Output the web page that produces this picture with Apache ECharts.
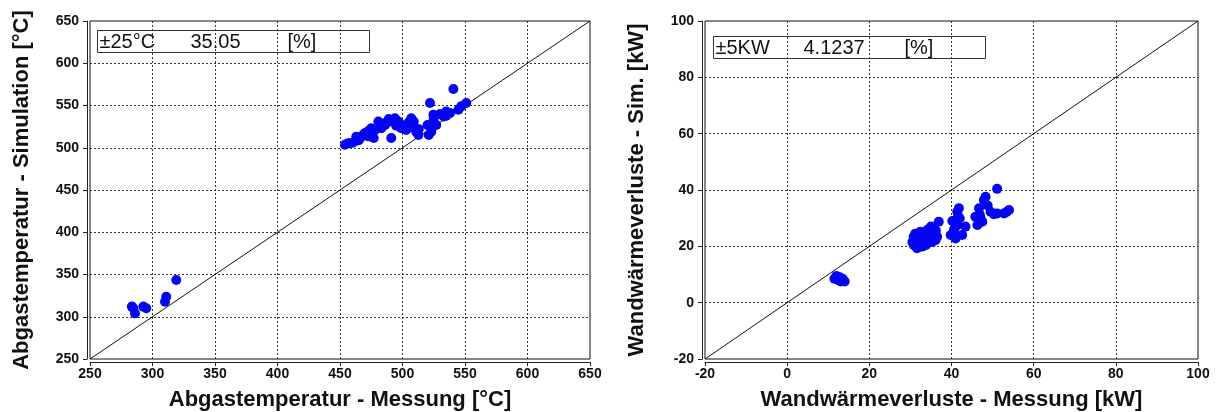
<!DOCTYPE html>
<html>
<head>
<meta charset="utf-8">
<script src="https://cdn.jsdelivr.net/npm/echarts@6/dist/echarts.min.js"></script>
<style>
  html, body { margin: 0; padding: 0; background: #fff; }
  #chart { width: 1216px; height: 412px; }
</style>
</head>
<body>
<div id="chart"></div>
<script>
// Exhaust gas temperature: measured vs. simulated [°C]
const abgasMessung = [
  283.5, 284.7, 286, 292.7, 295, 310, 311, 319,
  454, 458, 462, 466, 470, 472.7, 475, 477, 480.7, 483, 486, 490, 491, 494,
  496.7, 499, 507, 508.7, 511, 512.7, 522, 524.7, 524.7, 523, 523, 535, 535,
  540.7, 544.7, 547, 551,
  456, 460, 465, 468, 473, 478, 482, 487, 492, 498, 503, 505, 510, 520, 525, 530,
  463, 469, 476, 484, 489, 495, 501, 509, 513, 521, 527, 533, 538
];
const abgasSimulation = [
  312, 310, 304, 312, 310, 317.8, 323.6, 343.5,
  503.6, 505.6, 507.6, 511.5, 517.5, 513.5, 523, 511.5, 531, 523, 527, 531, 511.5, 535,
  531, 523, 535, 527, 519, 515, 553, 539, 531, 523, 519, 543, 538,
  569.5, 545, 549, 553,
  505, 506, 509, 514, 520, 521, 528, 530, 532, 528, 521, 530, 523, 527, 535, 540,
  513, 516, 518, 526, 534, 526, 525, 531, 522, 515, 527, 537, 541
];

// Wall heat losses: measured vs. simulated [kW]
const wandMessung = [
  11.5, 12, 12.5, 13, 13.5, 14, 12.8,
  30.8, 31.6, 30.8, 32.4, 34.1, 34.9, 35.7, 36.9, 36.1, 34.1, 31.6, 32.8, 36.5, 33, 35,
  31.2, 33.5, 35.2, 36.2, 30.5, 33.8,
  39.8, 40.6, 41.4, 41.4, 41.8, 42.6, 43.4, 41, 40.2, 42, 41.6, 40.8,
  46.3, 47.5, 46.7, 47.9, 48.3, 49.5, 51.1, 52.8, 54, 51.1, 47.1, 45.8, 48.8, 50.3, 53.4, 46.9
];
const wandSimulation = [
  8.5, 9.5, 8, 7.5, 8.5, 7.5, 9,
  20.5, 22.2, 23.4, 25.2, 25.8, 24.6, 26.4, 28.7, 22.2, 21.1, 19.3, 19.9, 23.4, 23, 27,
  24.5, 22, 21.5, 25.5, 21.5, 20.5,
  24, 25.8, 27.6, 32.3, 33.5, 24, 27, 22.8, 29, 30, 30.8, 26.5,
  27.6, 28.7, 33.5, 36.4, 37.6, 32.3, 31.7, 31.7, 32.9, 40.4, 29.9, 30.5, 34.5, 31.4, 32.2, 31.2
];

// Axis ranges (the 1:1 reference line runs corner to corner)
const abgasRange = [250, 650];
const wandRange = [-20, 100];

// Tolerance boxes
const abgasBox = ['±25°C', '35.05', '[%]'];
const wandBox = ['±5KW', '4.1237', '[%]'];

const FONT = 'Arial, "Liberation Sans", sans-serif';
const pairs = (xs, ys) => xs.map((x, i) => [x, ys[i]]);

const gridLine = { show: true, showMinLine: false, showMaxLine: false,
  lineStyle: { color: '#333', type: [2, 2], width: 1 } };

function makeX(gridIndex, range, interval, name) {
  return {
    type: 'value', gridIndex, min: range[0], max: range[1], interval,
    offset: 3,
    name, nameLocation: 'middle', nameGap: 27,
    nameTextStyle: { fontFamily: FONT, fontWeight: 'bold', fontSize: 22, color: '#111' },
    axisLine: { show: true, onZero: false, lineStyle: { color: '#222', width: 1 } },
    axisTick: { show: true, inside: false, length: 4, lineStyle: { color: '#222' } },
    axisLabel: { fontFamily: FONT, fontWeight: 'bold', fontSize: 14, color: '#111', margin: 5 },
    splitLine: gridLine
  };
}
function makeY(gridIndex, range, interval, name) {
  return {
    type: 'value', gridIndex, min: range[0], max: range[1], interval,
    offset: 3,
    name, nameLocation: 'middle', nameGap: 54, nameRotate: 90,
    nameTextStyle: { fontFamily: FONT, fontWeight: 'bold', fontSize: 22, color: '#111' },
    axisLine: { show: true, onZero: false, lineStyle: { color: '#222', width: 1 } },
    axisTick: { show: true, inside: false, length: 4, lineStyle: { color: '#222' } },
    axisLabel: { fontFamily: FONT, fontWeight: 'bold', fontSize: 14, color: '#111', margin: 8 },
    splitLine: gridLine
  };
}
function box(left, top, labels, offsets) {
  const children = [{
    type: 'rect', shape: { x: 0, y: 0, width: 272, height: 22 },
    style: { fill: '#fff', stroke: '#333', lineWidth: 1 }
  }];
  labels.forEach((t, i) => children.push({
    type: 'text', x: offsets[i], y: 12,
    style: { text: t, fontFamily: FONT, fontSize: 20, fill: '#111', verticalAlign: 'middle' }
  }));
  return { type: 'group', left, top, z: 100, children };
}

const gridStyle = { show: true, borderColor: '#111', borderWidth: 1, backgroundColor: '#fff',
  outerBoundsMode: 'none', containLabel: false };

const chart = echarts.init(document.getElementById('chart'), null, { renderer: 'canvas' });
chart.setOption({
  backgroundColor: '#fff',
  animation: false,
  grid: [
    Object.assign({ left: 90, top: 21, width: 500, height: 338 }, gridStyle),
    Object.assign({ left: 705, top: 21, width: 493, height: 338 }, gridStyle)
  ],
  xAxis: [
    makeX(0, abgasRange, 50, 'Abgastemperatur - Messung [°C]'),
    makeX(1, wandRange, 20, 'Wandwärmeverluste - Messung [kW]')
  ],
  yAxis: [
    makeY(0, abgasRange, 50, 'Abgastemperatur - Simulation [°C]'),
    makeY(1, wandRange, 20, 'Wandwärmeverluste - Sim. [kW]')
  ],
  series: [
    { type: 'line', xAxisIndex: 0, yAxisIndex: 0, data: pairs(abgasRange, abgasRange),
      symbol: 'none', lineStyle: { color: '#111', width: 1 }, z: 3 },
    { type: 'scatter', xAxisIndex: 0, yAxisIndex: 0, data: pairs(abgasMessung, abgasSimulation),
      symbol: 'circle', symbolSize: 10, itemStyle: { color: '#0505f0', opacity: 1 }, z: 4 },
    { type: 'line', xAxisIndex: 1, yAxisIndex: 1, data: pairs(wandRange, wandRange),
      symbol: 'none', lineStyle: { color: '#111', width: 1 }, z: 3 },
    { type: 'scatter', xAxisIndex: 1, yAxisIndex: 1, data: pairs(wandMessung, wandSimulation),
      symbol: 'circle', symbolSize: 10, itemStyle: { color: '#0505f0', opacity: 1 }, z: 4 }
  ],
  graphic: [
    box(97, 30, abgasBox, [2, 93, 190]),
    box(713, 36, wandBox, [2, 90, 191])
  ]
});
</script>
</body>
</html>
